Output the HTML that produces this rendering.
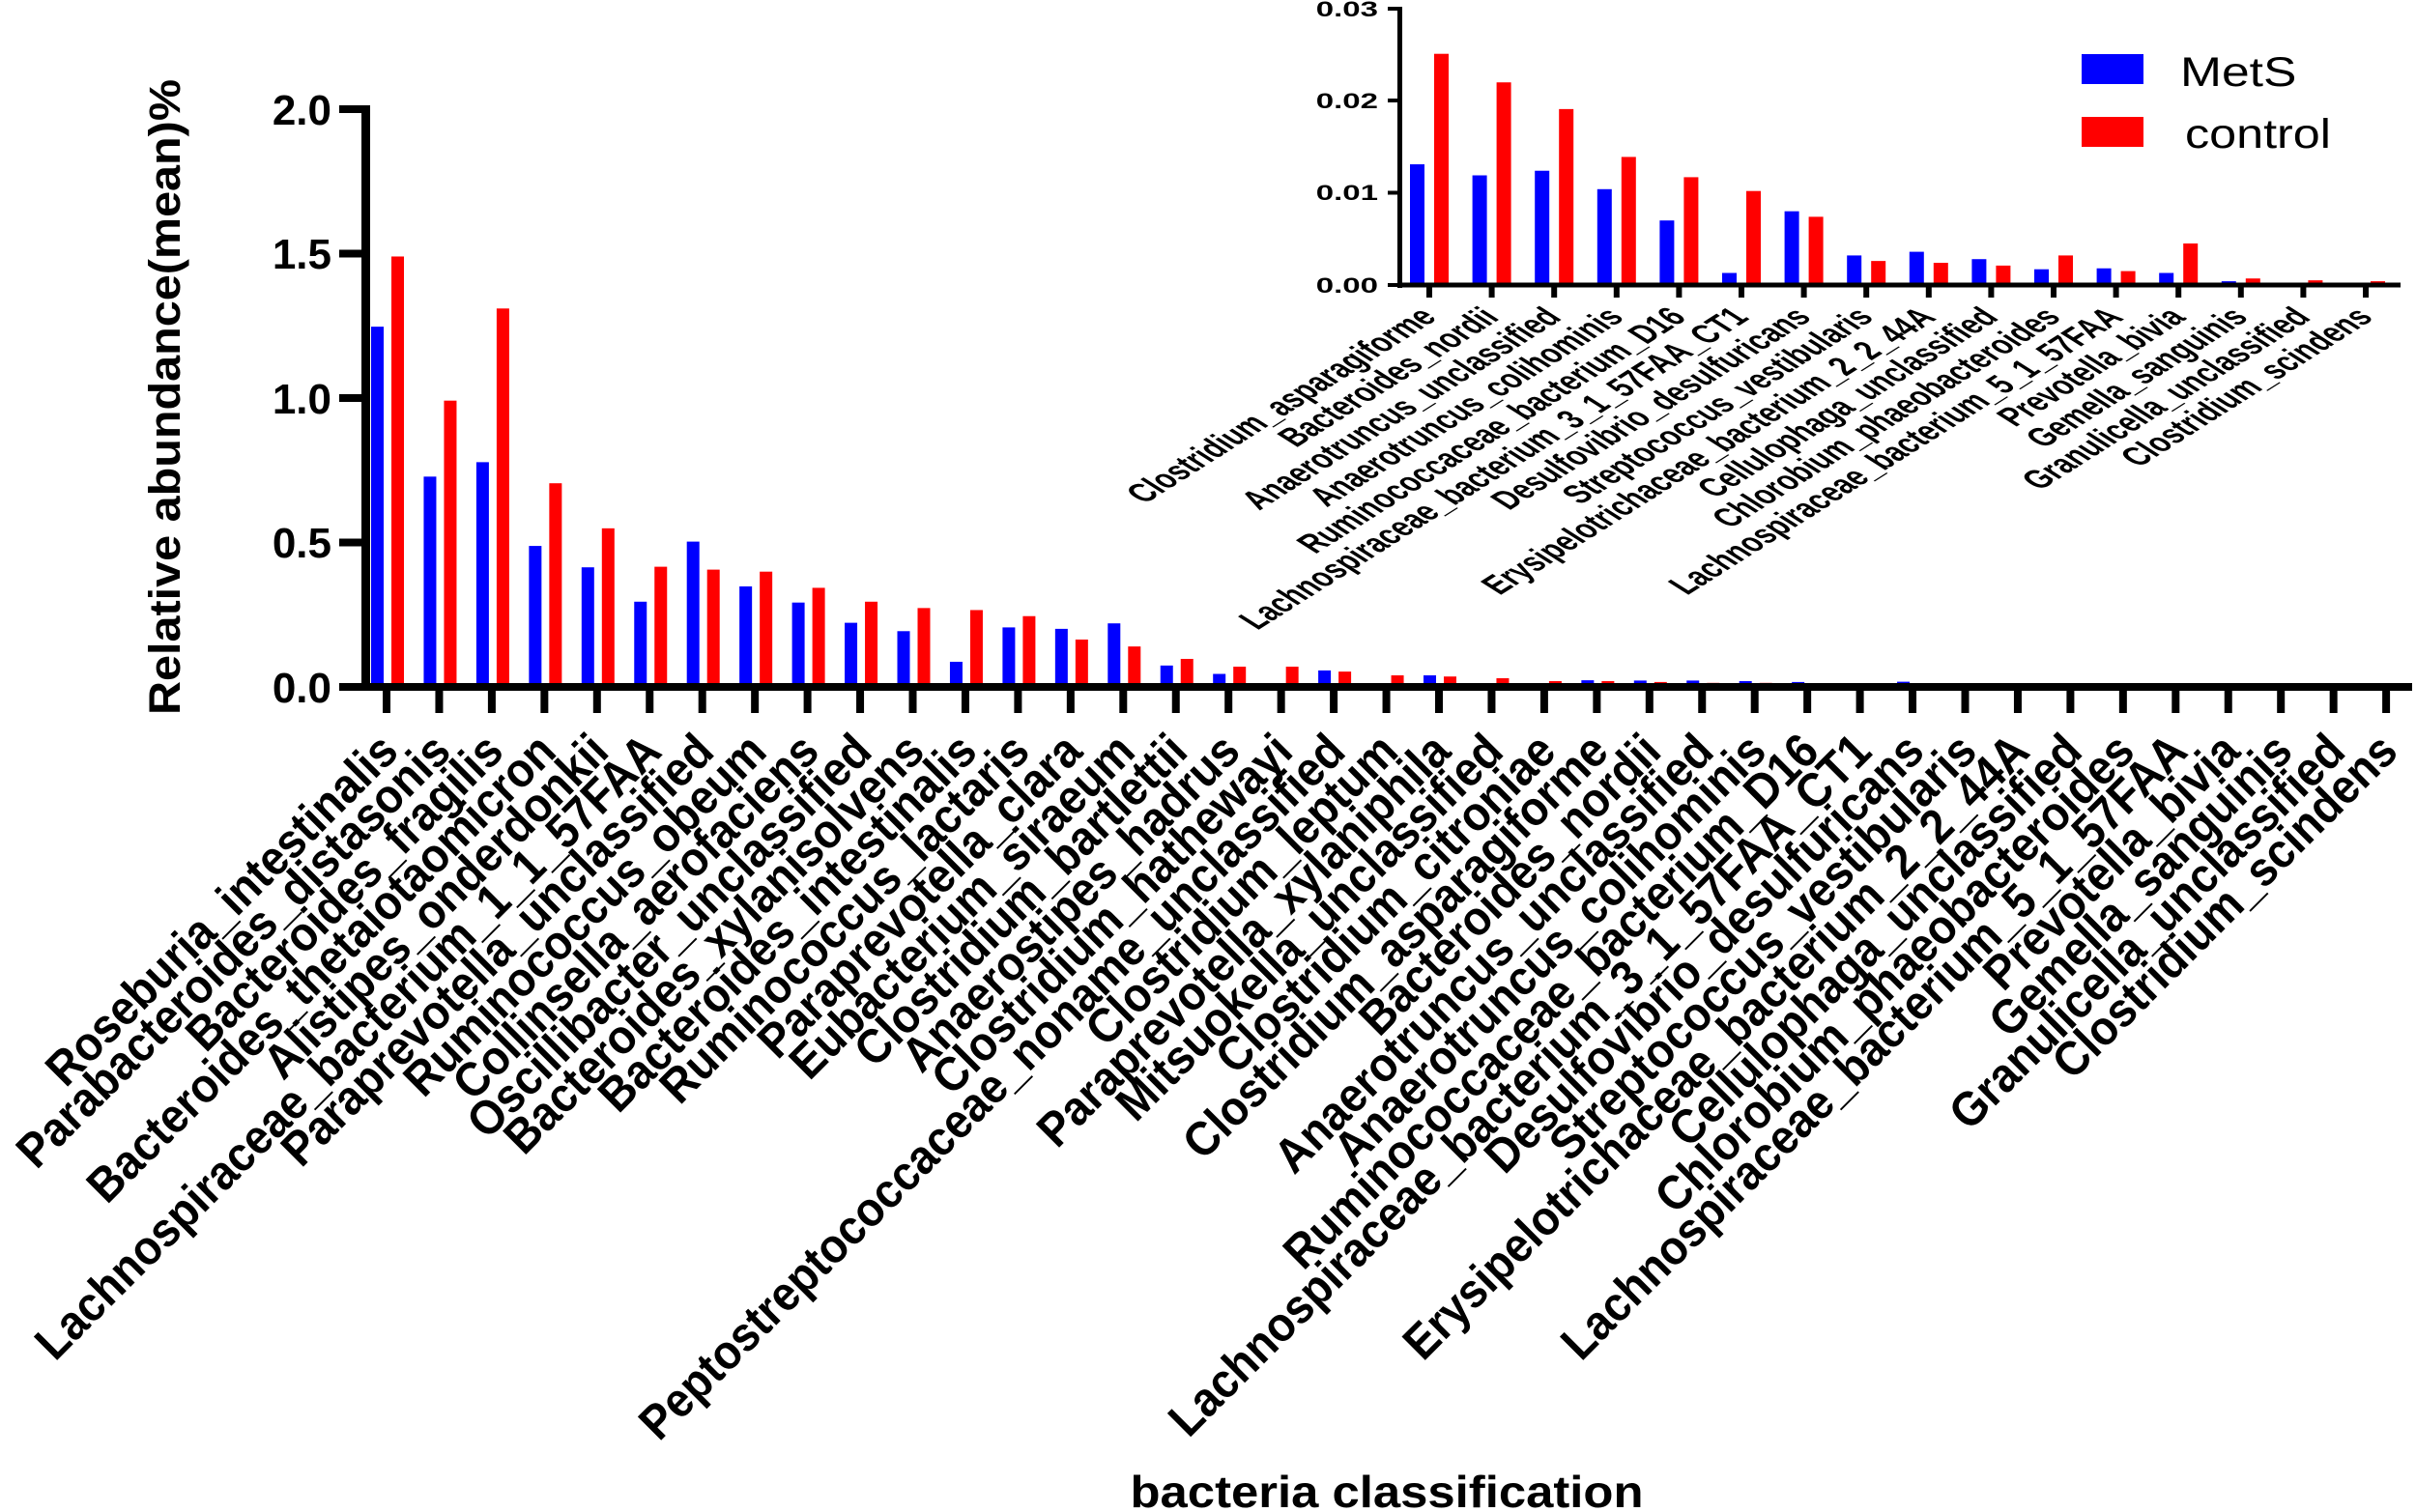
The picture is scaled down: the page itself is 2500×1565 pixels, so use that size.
<!DOCTYPE html>
<html><head><meta charset="utf-8"><style>
html,body{margin:0;padding:0;background:#fff;width:2500px;height:1565px;overflow:hidden}
svg{display:block}
text{font-family:"Liberation Sans",Arial,sans-serif;font-weight:bold;fill:#000}
</style></head><body>
<svg id="s" width="2500" height="1565" viewBox="0 0 2500 1565" xmlns="http://www.w3.org/2000/svg">
<g id="bars"></g>
<rect x="374" y="109" width="9" height="606" fill="#000"/>
<rect x="374" y="707" width="2122" height="8" fill="#000"/>
<g fill="#000">
<rect x="351" y="109" width="28" height="8"/>
<rect x="351" y="258.5" width="28" height="8"/>
<rect x="351" y="408" width="28" height="8"/>
<rect x="351" y="557.5" width="28" height="8"/>
<rect x="351" y="707" width="28" height="8"/>
</g>
<g id="mticks"></g>
<g font-size="44" text-anchor="end">
<text x="343" y="129">2.0</text>
<text x="343" y="278">1.5</text>
<text x="343" y="428">1.0</text>
<text x="343" y="577">0.5</text>
<text x="343" y="727">0.0</text>
</g>
<text transform="translate(186,411) rotate(-90)" text-anchor="middle" font-size="45" textLength="658" lengthAdjust="spacingAndGlyphs">Relative abundance(mean)%</text>
<text x="1435" y="1560" text-anchor="middle" font-size="46" textLength="531" lengthAdjust="spacingAndGlyphs">bacteria classification</text>
<g font-size="45" text-anchor="end">
<text class="ml">Roseburia_intestinalis</text>
<text class="ml">Parabacteroides_distasonis</text>
<text class="ml">Bacteroides_fragilis</text>
<text class="ml">Bacteroides_thetaiotaomicron</text>
<text class="ml">Alistipes_onderdonkii</text>
<text class="ml">Lachnospiraceae_bacterium_1_1_57FAA</text>
<text class="ml">Paraprevotella_unclassified</text>
<text class="ml">Ruminococcus_obeum</text>
<text class="ml">Collinsella_aerofaciens</text>
<text class="ml">Oscillibacter_unclassified</text>
<text class="ml">Bacteroides_xylanisolvens</text>
<text class="ml">Bacteroides_intestinalis</text>
<text class="ml">Ruminococcus_lactaris</text>
<text class="ml">Paraprevotella_clara</text>
<text class="ml">Eubacterium_siraeum</text>
<text class="ml">Clostridium_bartlettii</text>
<text class="ml">Anaerostipes_hadrus</text>
<text class="ml">Clostridium_hathewayi</text>
<text class="ml">Peptostreptococcaceae_noname_unclassified</text>
<text class="ml">Clostridium_leptum</text>
<text class="ml">Paraprevotella_xylaniphila</text>
<text class="ml">Mitsuokella_unclassified</text>
<text class="ml">Clostridium_citroniae</text>
<text class="ml">Clostridium_asparagiforme</text>
<text class="ml">Bacteroides_nordii</text>
<text class="ml">Anaerotruncus_unclassified</text>
<text class="ml">Anaerotruncus_colihominis</text>
<text class="ml">Ruminococcaceae_bacterium_D16</text>
<text class="ml">Lachnospiraceae_bacterium_3_1_57FAA_CT1</text>
<text class="ml">Desulfovibrio_desulfuricans</text>
<text class="ml">Streptococcus_vestibularis</text>
<text class="ml">Erysipelotrichaceae_bacterium_2_2_44A</text>
<text class="ml">Cellulophaga_unclassified</text>
<text class="ml">Chlorobium_phaeobacteroides</text>
<text class="ml">Lachnospiraceae_bacterium_5_1_57FAA</text>
<text class="ml">Prevotella_bivia</text>
<text class="ml">Gemella_sanguinis</text>
<text class="ml">Granulicella_unclassified</text>
<text class="ml">Clostridium_scindens</text>
</g>
<g id="ibars"></g>
<rect x="1446" y="7" width="5" height="291" fill="#000"/>
<rect x="1446" y="292.5" width="1038" height="5" fill="#000"/>
<g fill="#000">
<rect x="1436" y="7" width="12" height="4"/>
<rect x="1436" y="102" width="12" height="4"/>
<rect x="1436" y="197.5" width="12" height="4"/>
<rect x="1436" y="293" width="12" height="4"/>
</g>
<g id="iticks"></g>
<g font-size="22" text-anchor="end">
<text transform="translate(1426,17) scale(1.5,1)">0.03</text>
<text transform="translate(1426,112) scale(1.5,1)">0.02</text>
<text transform="translate(1426,207) scale(1.5,1)">0.01</text>
<text transform="translate(1426,303) scale(1.5,1)">0.00</text>
</g>
<g font-size="22" text-anchor="end">
<text class="il">Clostridium_asparagiforme</text>
<text class="il">Bacteroides_nordii</text>
<text class="il">Anaerotruncus_unclassified</text>
<text class="il">Anaerotruncus_colihominis</text>
<text class="il">Ruminococcaceae_bacterium_D16</text>
<text class="il">Lachnospiraceae_bacterium_3_1_57FAA_CT1</text>
<text class="il">Desulfovibrio_desulfuricans</text>
<text class="il">Streptococcus_vestibularis</text>
<text class="il">Erysipelotrichaceae_bacterium_2_2_44A</text>
<text class="il">Cellulophaga_unclassified</text>
<text class="il">Chlorobium_phaeobacteroides</text>
<text class="il">Lachnospiraceae_bacterium_5_1_57FAA</text>
<text class="il">Prevotella_bivia</text>
<text class="il">Gemella_sanguinis</text>
<text class="il">Granulicella_unclassified</text>
<text class="il">Clostridium_scindens</text>
</g>
<rect x="2154" y="56" width="64" height="31" fill="#0000ff"/>
<rect x="2154" y="121" width="64" height="31" fill="#ff0000"/>
<text font-size="43" transform="translate(2256,89) scale(1.2,1)" style="font-weight:normal">MetS</text>
<text font-size="43" transform="translate(2261,153) scale(1.17,1)" style="font-weight:normal">control</text>
</svg>
<script>
var NS="http://www.w3.org/2000/svg";
function R(p,x,y,w,h,c){var r=document.createElementNS(NS,"rect");r.setAttribute("x",x);r.setAttribute("y",y);r.setAttribute("width",w);r.setAttribute("height",h);r.setAttribute("fill",c);p.appendChild(r);}
var mb=[[1.237,1.48],[0.718,0.981],[0.768,1.30],[0.478,0.695],[0.404,0.539],[0.285,0.406],[0.493,0.396],[0.338,0.389],[0.282,0.333],[0.212,0.285],[0.183,0.263],[0.077,0.256],[0.196,0.235],[0.191,0.154],[0.21,0.13],[0.064,0.087],[0.035,0.06],[0.003,0.06],[0.047,0.043],[0,0.03],[0.03,0.026],[0.001,0.02],[0.001,0.01],[0.013,0.01],[0.012,0.007],[0.012,0.004],[0.01,0.004],[0.007,0.003],[0.001,0.003],[0.008,0.002],[0.003,0.002],[0.003,0.002],[0.003,0.002],[0.002,0.002],[0.002,0.001],[0.001,0.002],[0,0.001],[0,0],[0,0]];
var ib=[[0.0129,0.0249],[0.0117,0.0218],[0.0122,0.0189],[0.0102,0.0137],[0.0068,0.0115],[0.0011,0.0100],[0.0078,0.0072],[0.0030,0.0024],[0.0034,0.0022],[0.0026,0.0019],[0.0015,0.0030],[0.0016,0.0013],[0.0011,0.0043],[0.0002,0.0005],[0.00005,0.0003],[0.00003,0.0002]];
var g=document.getElementById("bars"),mt=document.getElementById("mticks");
var ml=document.getElementsByClassName("ml");
for(var i=0;i<39;i++){var t=400+i*54.45;
 var hb=mb[i][0]*299,hr=mb[i][1]*299;
 if(hb>0.5)R(g,t-16,708-hb,13,hb,"#0000ff");
 if(hr>0.5)R(g,t+5,708-hr,13,hr,"#ff0000");
 R(mt,t-4,711,8,27,"#000");
 var L=ml[i].getComputedTextLength();
 ml[i].setAttribute("font-size","50");
 ml[i].setAttribute("textLength",(L*1.02).toFixed(1));
 ml[i].setAttribute("lengthAdjust","spacingAndGlyphs");
 ml[i].setAttribute("transform","translate("+(t+2)+",768) rotate(-45)");ml[i].setAttribute("dy","0.35em");}
var ig=document.getElementById("ibars"),it=document.getElementById("iticks"),il=document.getElementsByClassName("il");
for(var j=0;j<16;j++){var t=1479+j*64.6;
 var hb=ib[j][0]*9530,hr=ib[j][1]*9530;
 if(hb>0.5)R(ig,t-20,293-hb,15,hb,"#0000ff");
 if(hr>0.5)R(ig,t+5,293-hr,15,hr,"#ff0000");
 R(it,t-3,295,6,13,"#000");
 var L2=il[j].getComputedTextLength();
 il[j].setAttribute("font-size","28");
 il[j].setAttribute("textLength",(L2*0.95).toFixed(1));
 il[j].setAttribute("lengthAdjust","spacingAndGlyphs");
 il[j].setAttribute("transform","translate("+(t-2)+",323) scale(1.58,1) rotate(-45)");il[j].setAttribute("dy","0.35em");}
</script>
</body></html>
